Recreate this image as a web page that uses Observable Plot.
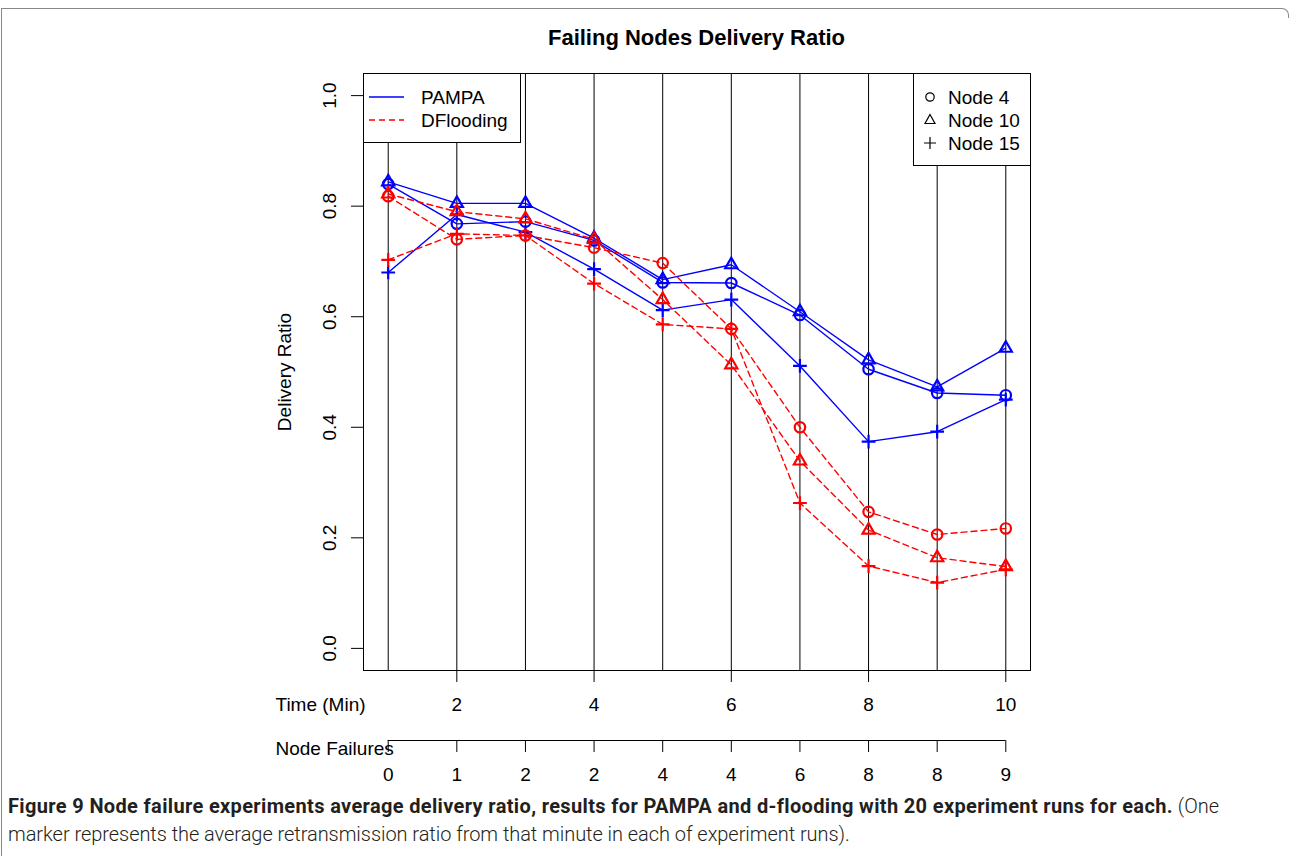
<!DOCTYPE html>
<html>
<head>
<meta charset="utf-8">
<script src="https://cdn.jsdelivr.net/npm/d3@7"></script>
<script src="https://cdn.jsdelivr.net/npm/@observablehq/plot@0.6"></script>
<style>
  body { margin: 0; background: #fff; }
  #wrap { position: relative; width: 1293px; height: 856px; overflow: hidden; font-family: "Liberation Sans", Arial, sans-serif; }
  #border { position: absolute; left: 1px; top: 8px; width: 1286px; height: 900px; border-left: 1px solid #888; border-top: 1px solid #888; border-right: 1px solid #888; border-top-right-radius: 7px; }
  #bordercut { position: absolute; left: 1280px; top: 18px; width: 13px; height: 840px; background: #fff; }
  #chart { position: absolute; left: 0; top: 0; }
  #title { position: absolute; left: 363px; width: 667px; top: 24px; text-align: center; font-weight: bold; font-size: 22px; line-height: 28px; color: #000; }
  .legend { position: absolute; }
  #caption { position: absolute; left: 8px; top: 792px; font-family: Roboto, "Open Sans", sans-serif; font-size: 20px; line-height: 28px; color: #231f20; white-space: nowrap; }
  #caption b { font-weight: bold; letter-spacing: 0.35px; }
  #caption span { font-weight: 300; letter-spacing: -0.05px; }
</style>
</head>
<body>
<div id="wrap">
  <div id="border"></div>
  <div id="bordercut"></div>
  <div id="chart"></div>
  <div id="title">Failing Nodes Delivery Ratio</div>
  <svg class="legend" style="left:363px;top:73px" width="158" height="70">
    <rect x="0.5" y="0.5" width="157" height="69" fill="#fff" stroke="#000"/>
    <line x1="6" x2="41" y1="24" y2="24" stroke="#0000ff" stroke-width="1.3"/>
    <line x1="6" x2="41" y1="47" y2="47" stroke="#ff0000" stroke-width="1.3" stroke-dasharray="6,4"/>
    <text x="58" y="24" dominant-baseline="central" font-size="19" font-family="Liberation Sans, Arial, sans-serif">PAMPA</text>
    <text x="58" y="47" dominant-baseline="central" font-size="19" font-family="Liberation Sans, Arial, sans-serif">DFlooding</text>
  </svg>
  <svg class="legend" style="left:913px;top:73px" width="118" height="93">
    <rect x="0.5" y="0.5" width="117" height="92" fill="#fff" stroke="#000"/>
    <circle cx="17" cy="24" r="4.2" fill="none" stroke="#000" stroke-width="1.2"/>
    <path d="M17,41.5 L22,50.5 L12,50.5 Z" fill="none" stroke="#000" stroke-width="1.2"/>
    <path d="M11,70 H23 M17,64 V76" fill="none" stroke="#000" stroke-width="1.2"/>
    <text x="35" y="24" dominant-baseline="central" font-size="19" font-family="Liberation Sans, Arial, sans-serif">Node 4</text>
    <text x="35" y="47" dominant-baseline="central" font-size="19" font-family="Liberation Sans, Arial, sans-serif">Node 10</text>
    <text x="35" y="70" dominant-baseline="central" font-size="19" font-family="Liberation Sans, Arial, sans-serif">Node 15</text>
  </svg>
  <div id="caption"><b>Figure 9 Node failure experiments average delivery ratio, results for PAMPA and d-flooding with 20 experiment runs for each.</b> <span>(One</span><br><span>marker represents the average retransmission ratio from that minute in each of experiment runs).</span></div>
</div>
<script>
// ---- data ----
const minutes = [1, 2, 3, 4, 5, 6, 7, 8, 9, 10];
const timeTicks = [2, 4, 6, 8, 10];
const nodeFailures = [0, 1, 2, 2, 4, 4, 6, 8, 8, 9];
const yTicks = [0, 0.2, 0.4, 0.6, 0.8, 1.0];
const xDomain = [0.64, 10.36];
const yDomain = [-0.04, 1.04];

const pampaNode4  = [0.840, 0.768, 0.772, 0.738, 0.662, 0.661, 0.603, 0.505, 0.462, 0.458];
const pampaNode10 = [0.844, 0.805, 0.805, 0.742, 0.667, 0.694, 0.609, 0.522, 0.473, 0.543];
const pampaNode15 = [0.680, 0.785, 0.753, 0.686, 0.612, 0.631, 0.511, 0.374, 0.392, 0.450];
const dfloodNode4  = [0.818, 0.740, 0.747, 0.725, 0.697, 0.578, 0.400, 0.247, 0.206, 0.217];
const dfloodNode10 = [0.822, 0.790, 0.777, 0.740, 0.631, 0.513, 0.339, 0.214, 0.164, 0.148];
const dfloodNode15 = [0.703, 0.750, 0.747, 0.660, 0.586, 0.578, 0.263, 0.149, 0.119, 0.143];

const seriesDefs = [
  {method: "PAMPA", node: "Node 4", values: pampaNode4},
  {method: "PAMPA", node: "Node 10", values: pampaNode10},
  {method: "PAMPA", node: "Node 15", values: pampaNode15},
  {method: "DFlooding", node: "Node 4", values: dfloodNode4},
  {method: "DFlooding", node: "Node 10", values: dfloodNode10},
  {method: "DFlooding", node: "Node 15", values: dfloodNode15}
];
const rows = seriesDefs.flatMap(s => s.values.map((v, i) => ({t: minutes[i], v, method: s.method, node: s.node, key: s.method + " " + s.node})));

const colorOf = {PAMPA: "#0000ff", DFlooding: "#ff0000"};
const symbolOf = {"Node 4": {symbol: "circle", r: 5.2}, "Node 10": {symbol: "triangle2", r: 5.8}, "Node 15": {symbol: "plus", r: 4.5}};
const fontSize = 19;

const marks = [
  Plot.ruleX(minutes, {stroke: "#000", strokeWidth: 1}),
  Plot.frame({stroke: "#000"}),
  Plot.axisY(yTicks, {anchor: "left", tickSize: 12, tickPadding: 22, tickRotate: -90, textAnchor: "middle", lineAnchor: "middle", tickFormat: d => d.toFixed(1), fontSize, label: null}),
  Plot.axisX(timeTicks, {anchor: "bottom", tickSize: 12, tickPadding: 22, lineAnchor: "middle", fontSize, label: null}),
  Plot.axisX(minutes, {anchor: "bottom", dy: 70, tickSize: 12, tickPadding: 22, lineAnchor: "middle", tickFormat: d => String(nodeFailures[minutes.indexOf(d)]), fontSize, label: null}),
  Plot.ruleY([yDomain[0]], {x1: minutes[0], x2: minutes[minutes.length - 1], dy: 70, stroke: "#000"}),
  Plot.text(["Time (Min)"], {frameAnchor: "bottom-left", text: d => d, textAnchor: "start", lineAnchor: "middle", dx: -88, dy: 34, fontSize}),
  Plot.text(["Node Failures"], {frameAnchor: "bottom-left", text: d => d, textAnchor: "start", lineAnchor: "middle", dx: -88, dy: 78, fontSize}),
  Plot.text(["Delivery Ratio"], {frameAnchor: "left", text: d => d, rotate: -90, textAnchor: "middle", lineAnchor: "middle", dx: -79, fontSize})
];

for (const method of ["PAMPA", "DFlooding"]) {
  const data = rows.filter(d => d.method === method);
  marks.push(Plot.line(data, {x: "t", y: "v", z: "key", stroke: colorOf[method], strokeWidth: 1.4, strokeDasharray: method === "DFlooding" ? "6,4" : null}));
  for (const node of ["Node 4", "Node 10", "Node 15"]) {
    const sd = data.filter(d => d.node === node);
    marks.push(Plot.dot(sd, {x: "t", y: "v", symbol: symbolOf[node].symbol, r: symbolOf[node].r, stroke: colorOf[method], fill: "none", strokeWidth: 2.2}));
  }
}

const chart = Plot.plot({
  width: 1293,
  height: 790,
  marginLeft: 363,
  marginRight: 263,
  marginTop: 73,
  marginBottom: 120,
  x: {domain: xDomain},
  y: {domain: yDomain},
  style: {fontFamily: "Liberation Sans, Arial, sans-serif", fontSize: "19px", background: "transparent", color: "#000"},
  marks
});
document.getElementById("chart").appendChild(chart);
</script>
</body>
</html>
